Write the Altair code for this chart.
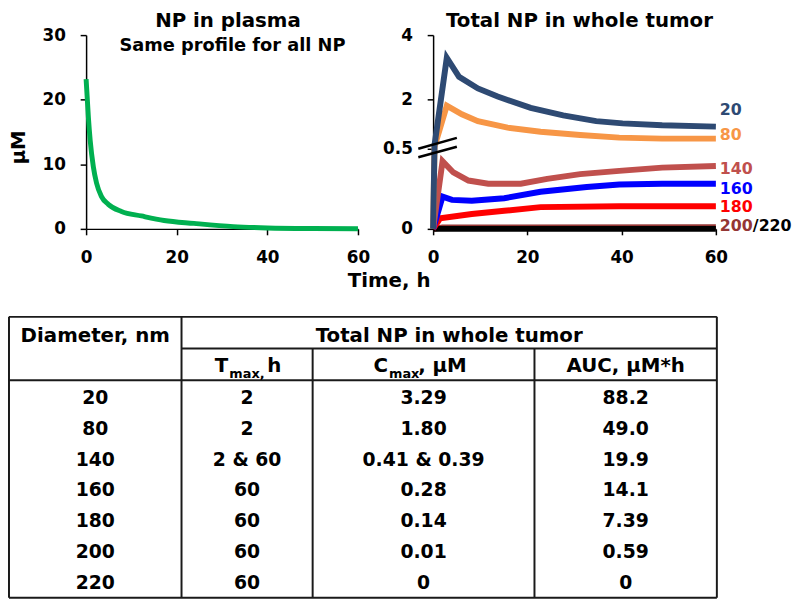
import altair as alt
import pandas as pd

FONT = "DejaVu Sans"

# ---------------- data ----------------
plasma_t = [0, 0.5, 0.9, 1.6, 2.3, 3.4, 4.9, 7.8, 12.2, 17.2, 23.8, 32.5, 40, 50, 60]
plasma_c = [23.2, 17.3, 13.7, 9.6, 7.1, 5.0, 3.8, 2.7, 2.0, 1.3, 0.85, 0.35, 0.15, 0.05, 0.02]

t_20 = [0, 0.3, 2.9, 5.5, 9.5, 13.7, 20.7, 27.6, 34.6, 40.2, 48.6, 60]
c_20 = [0, 0.6, 3.30, 2.71, 2.35, 2.10, 1.75, 1.52, 1.34, 1.27, 1.21, 1.17]
t_80 = [0, 0.3, 2.9, 6.1, 9.5, 15.8, 22.8, 31.2, 39.5, 48.6, 60]
c_80 = [0, 0.55, 1.82, 1.55, 1.34, 1.14, 1.01, 0.91, 0.83, 0.80, 0.80]
t_140 = [0, 2.0, 4.3, 7.5, 11.7, 18.6, 24.2, 31.2, 39.5, 48.6, 60]
c_140 = [0, 0.42, 0.35, 0.30, 0.28, 0.28, 0.31, 0.34, 0.36, 0.38, 0.39]
t_160 = [0, 2.0, 4.0, 8.2, 15.1, 22.8, 32.6, 39.5, 48.6, 60]
c_160 = [0, 0.20, 0.18, 0.175, 0.19, 0.23, 0.26, 0.275, 0.28, 0.28]
t_180 = [0, 1.5, 8.2, 15.1, 22.8, 39.5, 60]
c_180 = [0, 0.066, 0.092, 0.112, 0.135, 0.14, 0.14]
t_200 = [0, 2, 60]
c_200 = [0, 0.008, 0.01]
t_220 = [0, 60]
c_220 = [0, 0]

series_names = ["200", "220", "180", "160", "140", "80", "20"]   # drawing order
series_t = [t_200, t_220, t_180, t_160, t_140, t_80, t_20]
series_c = [c_200, c_220, c_180, c_160, c_140, c_80, c_20]
series_colors = ["#943634", "#000000", "#FF0000", "#0000FF", "#C0504D", "#F79646", "#2E4A73"]

label_text = ["20", "80", "140", "160", "180", "200"]
label_pos = [1.68, 0.91, 0.37, 0.247, 0.135, 0.018]
label_colors = ["#2E4A73", "#F79646", "#C0504D", "#0000FF", "#FF0000", "#943634"]

# table
diam = ["20", "80", "140", "160", "180", "200", "220"]
tmax = ["2", "2", "2 & 60", "60", "60", "60", "60"]
cmax = ["3.29", "1.80", "0.41 & 0.39", "0.28", "0.14", "0.01", "0"]
auc = ["88.2", "49.0", "19.9", "14.1", "7.39", "0.59", "0"]

# ---------------- layout constants ----------------
LW, LH = 275, 196
RW, RH = 286, 196


def x_axis():
    return alt.Axis(values=[0, 20, 40, 60], title=None, labelFlush=False, grid=False,
                    domainColor="black", domainWidth=1.5, tickColor="black", tickWidth=1.5,
                    tickSize=6, labelFont=FONT, labelFontSize=17, labelFontWeight="bold",
                    labelColor="black", labelPadding=15)


XS = alt.Scale(domain=[0, 60], nice=False, zero=False)

# ---------------- left: plasma ----------------
ly_axis = alt.Axis(values=[0, 10, 20, 30], title="μM", grid=False,
                   domainColor="black", domainWidth=1.5, tickColor="black", tickWidth=1.5,
                   tickSize=6, labelFont=FONT, labelFontSize=17, labelFontWeight="bold",
                   labelColor="black", labelPadding=15, titleFont=FONT, titleFontSize=20,
                   titleFontWeight="bold", titleColor="black", titlePadding=14, titleY=113)

plasma_df = pd.DataFrame({"t": plasma_t, "c": plasma_c})
plasma_line = alt.Chart(plasma_df).mark_line(color="#00B050", strokeWidth=5, interpolate="monotone").encode(
    x=alt.X("t:Q", scale=XS, axis=x_axis()),
    y=alt.Y("c:Q", scale=alt.Scale(domain=[0, 30], nice=False), axis=ly_axis),
)
subtitle = alt.Chart(pd.DataFrame({"a": [0]})).mark_text(
    text="Same profile for all NP", font=FONT, fontSize=18, fontWeight="bold", color="black",
    align="center", baseline="alphabetic").encode(x=alt.value(148), y=alt.value(16))

left = alt.layer(plasma_line, subtitle).properties(
    width=LW, height=LH,
    title=alt.TitleParams("NP in plasma", font=FONT, fontSize=20, fontWeight="bold", color="black",
                          anchor="middle", dx=6, offset=-5))

# ---------------- right: tumor ----------------
RY = alt.Scale(domain=[0, 0.5, 4], range=[RH, 114.5, 0], nice=False, zero=False)
ry_axis = alt.Axis(values=[0, 0.5, 2, 4], labelExpr="datum.value == 0.5 ? '0.5' : '' + datum.value",
                   title=None, grid=False, domainColor="black", domainWidth=1.5, tickColor="black",
                   tickWidth=1.5, tickSize=6, labelFont=FONT, labelFontSize=17, labelFontWeight="bold",
                   labelColor="black", labelPadding=15)

layers = []
for name, ts, cs, col in zip(series_names, series_t, series_c, series_colors):
    df = pd.DataFrame({"t": ts, "c": cs})
    layers.append(alt.Chart(df).mark_line(color=col, strokeWidth=6).encode(
        x=alt.X("t:Q", scale=XS, axis=x_axis()),
        y=alt.Y("c:Q", scale=RY, axis=ry_axis)))

one = pd.DataFrame({"a": [0]})
brk1 = alt.Chart(one).mark_rule(color="black", strokeWidth=2.5).encode(
    x=alt.value(-15), x2=alt.value(24), y=alt.value(115), y2=alt.value(104))
brk2 = alt.Chart(one).mark_rule(color="black", strokeWidth=2.5).encode(
    x=alt.value(-15), x2=alt.value(24), y=alt.value(123.5), y2=alt.value(113))

lab_df = pd.DataFrame({"label": label_text, "t": [60] * len(label_text), "c": label_pos, "col": label_colors})
labels = alt.Chart(lab_df).mark_text(align="left", baseline="middle", dx=4, font=FONT, fontSize=16,
                                     fontWeight="bold").encode(
    x=alt.X("t:Q", scale=XS), y=alt.Y("c:Q", scale=RY), text="label:N",
    color=alt.Color("col:N", scale=None))
lab_220 = alt.Chart(pd.DataFrame({"label": ["/220"], "t": [60], "c": [label_pos[-1]]})).mark_text(
    align="left", baseline="middle", dx=4 + 3 * 0.696 * 16, font=FONT, fontSize=16, fontWeight="bold",
    color="black").encode(x=alt.X("t:Q", scale=XS), y=alt.Y("c:Q", scale=RY), text="label:N")

right = alt.layer(*layers, brk1, brk2, labels, lab_220).properties(
    width=RW, height=RH,
    title=alt.TitleParams("Total NP in whole tumor", font=FONT, fontSize=20, fontWeight="bold",
                          color="black", anchor="middle", dx=5, offset=-5))

top = alt.hconcat(left, right, spacing=12).properties(
    title=alt.TitleParams("Time, h", orient="bottom", anchor="middle", dx=-11, offset=6, font=FONT,
                          fontSize=20, fontWeight="bold", color="black"))

# ---------------- table ----------------
# table drawn in reference-pixel coordinates; its origin lines up with the left plot's origin
TW, TH = 638, 284
TX = alt.Scale(domain=[4, 722], range=[-78, 638], nice=False, zero=False)
TY = alt.Scale(domain=[317, 600], range=[0, TH], nice=False, zero=False)
COL_CENTERS = [91.5, 245.5, 424.5, 629.5]
ROW_Y0, ROW_H = 399, 31
TOP_Y, MID_Y, HEAD_Y, BOT_Y = 317, 349, 381, 600

seg = pd.DataFrame({
    "x1": [4, 179, 4, 4, 4, 179, 312, 537, 722],
    "x2": [722, 722, 722, 722, 4, 179, 312, 537, 722],
    "y1": [TOP_Y, MID_Y, HEAD_Y, BOT_Y, TOP_Y, TOP_Y, MID_Y, MID_Y, TOP_Y],
    "y2": [TOP_Y, MID_Y, HEAD_Y, BOT_Y, BOT_Y, BOT_Y, BOT_Y, BOT_Y, BOT_Y],
})
grid = alt.Chart(seg).mark_rule(color="#1a1a1a", strokeWidth=2).encode(
    x=alt.X("x1:Q", scale=TX, axis=None), x2="x2:Q",
    y=alt.Y("y1:Q", scale=TY, axis=None), y2="y2:Q")

body_rows = []
for ci, colvals in enumerate([diam, tmax, cmax, auc]):
    for ri, v in enumerate(colvals):
        body_rows.append({"txt": v, "x": COL_CENTERS[ci], "y": ROW_Y0 + ri * ROW_H})
body = alt.Chart(pd.DataFrame(body_rows)).mark_text(
    font=FONT, fontSize=19, fontWeight="bold", color="black", align="center", baseline="middle").encode(
    x=alt.X("x:Q", scale=TX, axis=None), y=alt.Y("y:Q", scale=TY, axis=None), text="txt:N")


def head_layer(items, align):
    df = pd.DataFrame(items, columns=["txt", "x", "y", "fs"])
    return alt.Chart(df).mark_text(font=FONT, fontWeight="bold", color="black", align=align,
                                   baseline="middle").encode(
        x=alt.X("x:Q", scale=TX, axis=None), y=alt.Y("y:Q", scale=TY, axis=None), text="txt:N",
        size=alt.Size("fs:Q", scale=None, legend=None))


head_c = head_layer([("Diameter, nm", 91.5, 336, 20), ("Total NP in whole tumor", 450.5, 336, 20),
                     ("AUC, μM*h", 629.5, 366.5, 20)], "center")
head_r = head_layer([("T", 226.5, 366.5, 20), ("C", 388.5, 366.5, 20)], "right")
head_l = head_layer([("max,", 227.5, 374.5, 13), ("h", 266, 366.5, 20), ("max", 389.5, 374.5, 13),
                     (", μM", 419, 366.5, 20)], "left")

table = alt.layer(grid, body, head_c, head_r, head_l).properties(width=TW, height=TH)

chart = alt.vconcat(top, table, spacing=25).properties(padding=0).configure_view(stroke=None)

chart.save("out.html", embed_options={"renderer": "svg", "actions": False})
